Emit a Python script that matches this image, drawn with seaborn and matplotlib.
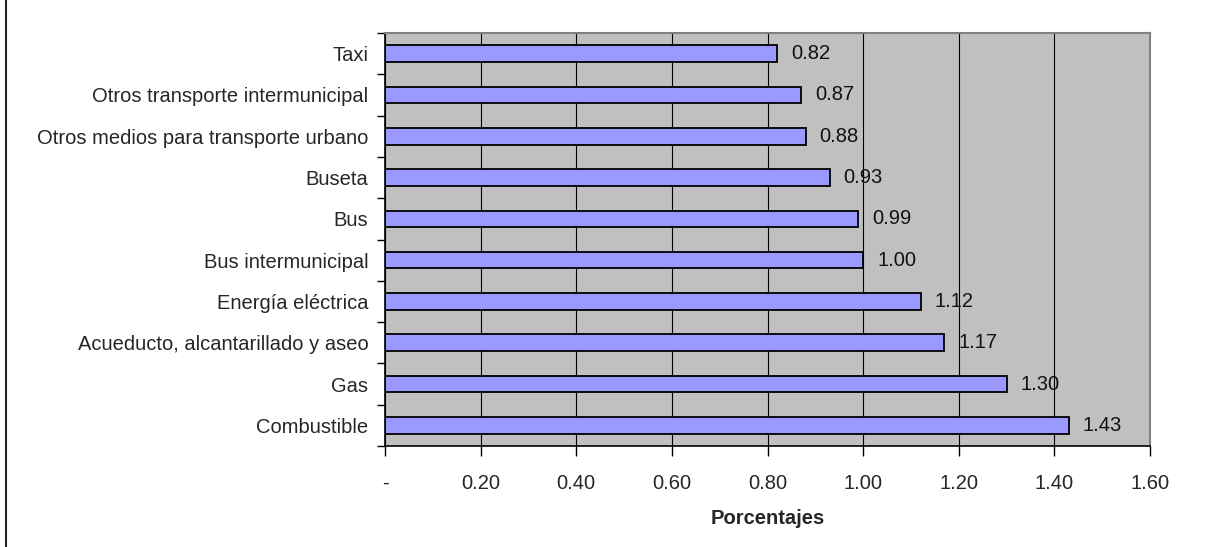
import matplotlib
matplotlib.use("Agg")
import matplotlib.pyplot as plt
from matplotlib.lines import Line2D
import seaborn as sns

# data (top to bottom)
categories = ["Taxi", "Otros transporte intermunicipal", "Otros medios para transporte urbano",
              "Buseta", "Bus", "Bus intermunicipal", "Energía eléctrica",
              "Acueducto, alcantarillado y aseo", "Gas", "Combustible"]
values = [0.82, 0.87, 0.88, 0.93, 0.99, 1.00, 1.12, 1.17, 1.30, 1.43]
xticks = [0.0, 0.2, 0.4, 0.6, 0.8, 1.0, 1.2, 1.4, 1.6]
xtick_labels = ["-", "0.20", "0.40", "0.60", "0.80", "1.00", "1.20", "1.40", "1.60"]

sns.set_style("white")
plt.rcParams["font.family"] = ["Liberation Sans", "DejaVu Sans"]
fs = 14.5

fig = plt.figure(figsize=(12.12, 5.47), dpi=100)
ax = fig.add_axes([385 / 1212, 1 - 446 / 547, (1150 - 385) / 1212, (446 - 33) / 547])
ax.set_facecolor("#C0C0C0")

sns.barplot(x=values, y=categories, orient="h", color="#9999FF", edgecolor="black",
            linewidth=1.3, width=0.4, saturation=1, ax=ax)

# value labels
for cont in ax.containers:
    ax.bar_label(cont, fmt="%.2f", padding=10, fontsize=fs, color="#111111")

ax.set_xlim(0, 1.6)
ax.set_ylim(9.5, -0.5)
ax.set_xticks(xticks)
ax.set_xticklabels(xtick_labels, fontsize=fs)
ax.tick_params(axis="x", direction="out", length=7, width=1, pad=13, color="black", bottom=True)

# category labels at centres, ticks at the boundaries (Excel style)
ax.set_yticks(range(len(categories)))
ax.set_yticklabels(categories, fontsize=fs)
ax.tick_params(axis="y", which="major", length=0, pad=12)
ax.set_yticks([i - 0.5 for i in range(len(categories) + 1)], minor=True)
ax.tick_params(axis="y", which="minor", direction="out", length=6, width=1, color="black", left=True)

ax.xaxis.grid(True, color="black", lw=0.8)
ax.yaxis.grid(False)
ax.set_axisbelow(True)

for side in ["left", "bottom"]:
    ax.spines[side].set_color("black")
    ax.spines[side].set_linewidth(1.2)
for side in ["top", "right"]:
    ax.spines[side].set_color("#808080")
    ax.spines[side].set_linewidth(1.5)

ax.set_xlabel("Porcentajes", fontsize=fs, fontweight="bold", labelpad=12)
ax.set_ylabel("")

# left border of chart area
fig.add_artist(Line2D([6 / 1212, 6 / 1212], [0, 1], color="#222222", lw=1.5, transform=fig.transFigure))

fig.savefig("out.png", dpi=100)
